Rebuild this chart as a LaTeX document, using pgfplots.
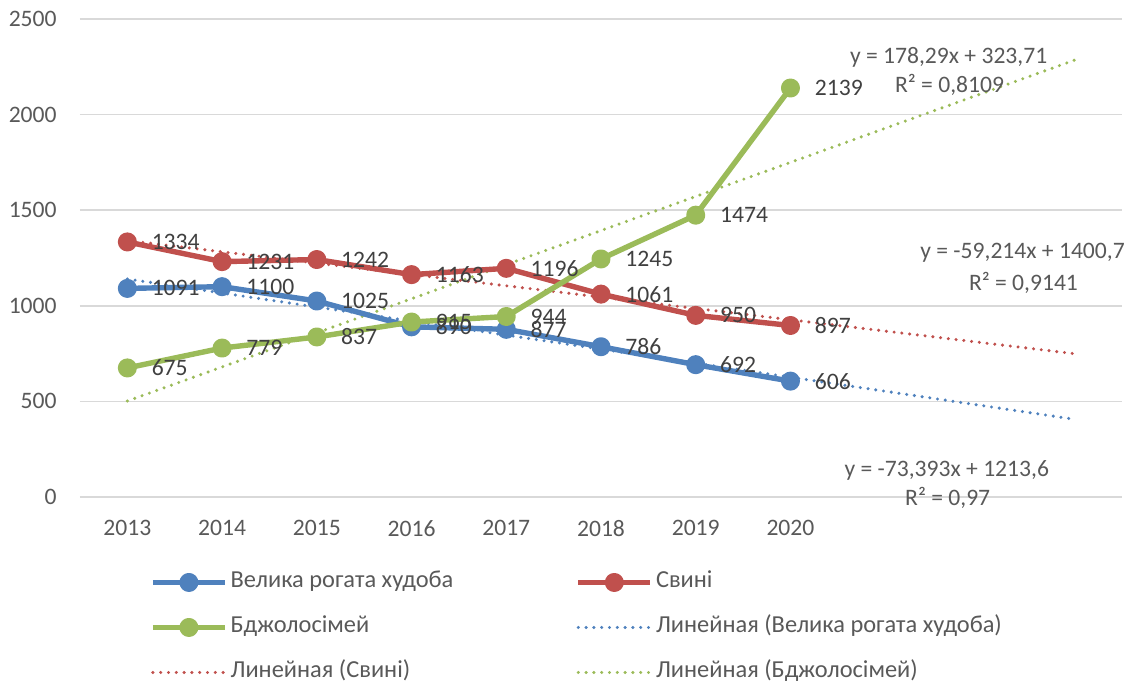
\documentclass[border=0pt]{standalone}
\usepackage{fontspec}
\setmainfont{Carlito}
\usepackage{pgfplots}
\pgfplotsset{compat=1.18}

\definecolor{cBlue}{HTML}{4F81BD}
\definecolor{cRed}{HTML}{C0504D}
\definecolor{cGreen}{HTML}{9BBB59}
\definecolor{cGrid}{HTML}{D9D9D9}
\definecolor{cTick}{HTML}{595959}
\definecolor{cLab}{HTML}{404040}

\pgfplotsset{
  series/.style={line width=2.7pt, mark=*, mark size=3.4pt, mark options={solid}, line join=round},
  trend/.style={line width=1.7pt, line cap=round, dash pattern=on 0pt off 3.9pt},
  vals/.style={draw=none, mark=none, forget plot, nodes near coords,
    nodes near coords align=horizontal,
    every node near coord/.append style={anchor=west, inner sep=0pt, xshift=12pt, text=cLab}},
  /pgf/number format/1000 sep={},
  /pgf/number format/assume math mode=true,
}

\begin{document}
\begin{tikzpicture}[font=\fontsize{11.8}{14}\selectfont]
\path[use as bounding box] (-40pt,-93.5pt) rectangle (528.5pt,248.5pt);
\begin{axis}[
  scale only axis, width=521pt, height=239pt,
  xmin=0.5, xmax=11.5, ymin=0, ymax=2500,
  xtick={1,2,3,4,5,6,7,8},
  xticklabels={2013,2014,2015,2016,2017,2018,2019,2020},
  ytick={0,500,1000,1500,2000,2500},
  axis line style={draw=none}, tick style={draw=none},
  ymajorgrids, grid style={cGrid, line width=0.75pt},
  ticklabel style={text=cTick, inner sep=0pt},
  yticklabel style={xshift=-11.5pt},
  xticklabel style={yshift=-11.5pt},
  clip=false,
  legend columns=2,
  legend cell align=left,
  legend style={draw=none, fill=none, at={(0.067,-0.156)}, anchor=north west,
    inner sep=0pt, column sep=1.5pt, row sep=12pt,
    font=\fontsize{12.2}{14.5}\selectfont,
    nodes={inner sep=0pt, text height=8pt, text depth=2.5pt, text=cTick}},
  legend image code/.code={\draw[mark repeat=2,mark phase=2,#1] plot coordinates {(0pt,0pt) (18pt,0pt) (36pt,0pt)};},
]
% legend
\addlegendimage{series, color=cBlue}
\addlegendentry{\makebox[171pt][l]{Велика рогата худоба}}
\addlegendimage{series, color=cRed}
\addlegendentry{Свині}
\addlegendimage{series, color=cGreen}
\addlegendentry{\makebox[171pt][l]{Бджолосімей}}
\addlegendimage{trend, color=cBlue}
\addlegendentry{Линейная (Велика рогата худоба)}
\addlegendimage{trend, color=cRed}
\addlegendentry{\makebox[171pt][l]{Линейная (Свині)}}
\addlegendimage{trend, color=cGreen}
\addlegendentry{Линейная (Бджолосімей)}

% linear trends (x=1..11)
\addplot[trend, color=cBlue, forget plot] coordinates {(1,1140.2) (11,406.3)};
\addplot[trend, color=cRed, forget plot] coordinates {(1,1341.5) (11,749.3)};
\addplot[trend, color=cGreen, forget plot] coordinates {(1,502.0) (11,2284.9)};

% series
\addplot[series, color=cBlue, forget plot] coordinates {
  (1,1091)(2,1100)(3,1025)(4,890)(5,877)(6,786)(7,692)(8,606)};
\addplot[series, color=cRed, forget plot] coordinates {
  (1,1334)(2,1231)(3,1242)(4,1163)(5,1196)(6,1061)(7,950)(8,897)};
\addplot[series, color=cGreen, forget plot] coordinates {
  (1,675)(2,779)(3,837)(4,915)(5,944)(6,1245)(7,1474)(8,2139)};

% data labels
\addplot[vals] coordinates {
  (1,1091)(2,1100)(3,1025)(4,890)(5,877)(6,786)(7,692)(8,606)};
\addplot[vals] coordinates {
  (1,1334)(2,1231)(3,1242)(4,1163)(5,1196)(6,1061)(7,950)(8,897)};
\addplot[vals] coordinates {
  (1,675)(2,779)(3,837)(4,915)(5,944)(6,1245)(7,1474)(8,2139)};

% trend equations
\node[text=cTick] at (axis cs:9.67,2301) {y = 178,29x + 323,71};
\node[text=cTick] at (axis cs:9.68,2155) {R² = 0,8109};
\node[text=cTick] at (axis cs:10.45,1276) {y = -59,214x + 1400,7};
\node[text=cTick] at (axis cs:10.46,1119) {R² = 0,9141};
\node[text=cTick] at (axis cs:9.65,141) {y = -73,393x + 1213,6};
\node[text=cTick] at (axis cs:9.66,-5) {R² = 0,97};
\end{axis}
\end{tikzpicture}
\end{document}
